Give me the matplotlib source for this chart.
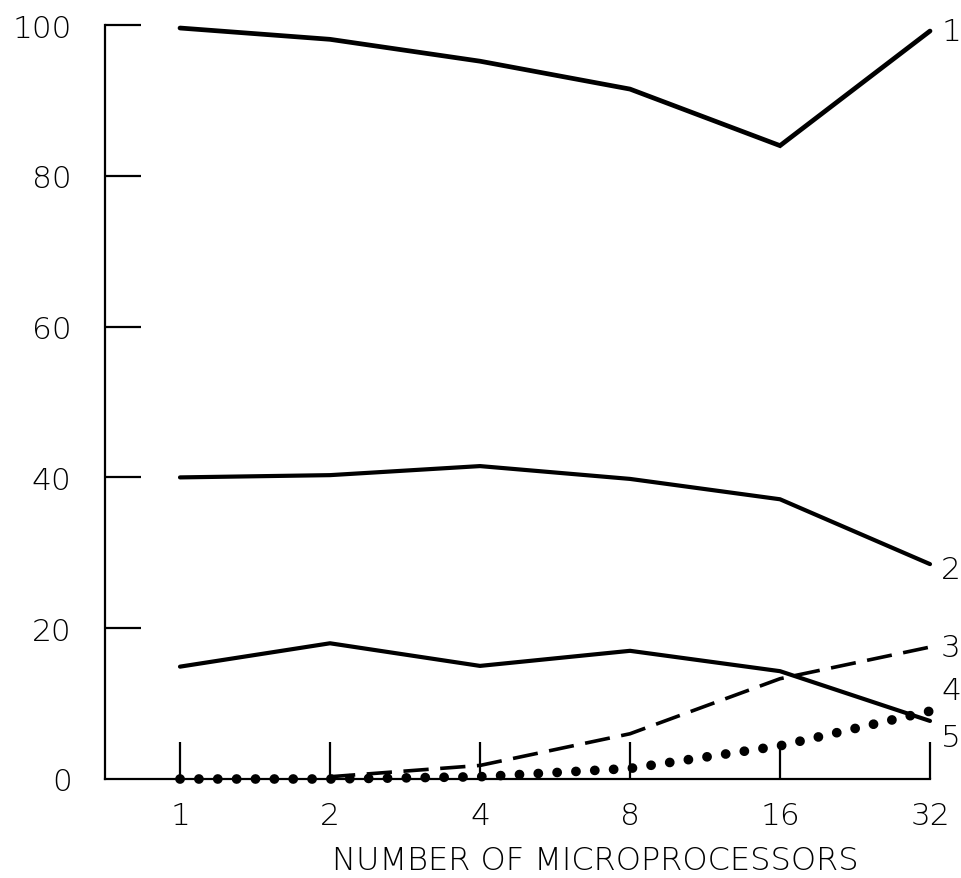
import matplotlib
matplotlib.use("Agg")
import matplotlib.pyplot as plt
from matplotlib.ticker import FixedLocator, FixedFormatter, NullLocator

# Number of microprocessors (log2 axis)
processors = [1, 2, 4, 8, 16, 32]
tick_labels = ["1", "2", "4", "8", "16", "32"]

# Curve 1 (top solid)
curve1 = [99.6, 98.1, 95.2, 91.5, 84.0, 99.2]
# Curve 2 (middle solid)
curve2 = [40.0, 40.3, 41.5, 39.8, 37.1, 28.5]
# Curve 3 (dashed)
curve3_x = [2, 4, 8, 16, 32]
curve3 = [0.3, 1.8, 6.0, 13.3, 17.5]
# Curve 4 (dotted)
curve4 = [0.0, 0.0, 0.3, 1.4, 4.4, 9.0]
# Curve 5 (lower solid)
curve5 = [14.9, 18.0, 15.0, 17.0, 14.3, 7.7]

yticks = [0, 20, 40, 60, 80, 100]

W, H, DPI = 961, 879, 100
fig = plt.figure(figsize=(W / DPI, H / DPI), dpi=DPI)
left, right = 105 / W, 930 / W
bottom, top = 1 - 780 / H, 1 - 26 / H
ax = fig.add_axes([left, bottom, right - left, top - bottom])

ax.set_xscale("log", base=2)
ax.set_xlim(2 ** -0.5, 32)
ax.set_ylim(0, 100)

black = "black"
ax.plot(processors, curve1, color=black, lw=3.4, solid_capstyle="round",
        solid_joinstyle="miter", clip_on=False, zorder=3)
ax.plot(processors, curve2, color=black, lw=3.0, solid_capstyle="round",
        clip_on=False, zorder=3)
ax.plot(processors, curve5, color=black, lw=3.0, solid_capstyle="round",
        clip_on=False, zorder=3)
ax.plot(curve3_x, curve3, color=black, lw=2.6, linestyle=(0, (7.0, 3.2)),
        clip_on=False, zorder=3)
ax.plot(processors, curve4, color=black, lw=7.0, linestyle=(0, (0.01, 1.93)),
        dash_capstyle="round", clip_on=False, zorder=4)

# Spines: only the left and bottom axes
for side in ("top", "right"):
    ax.spines[side].set_visible(False)
for side in ("left", "bottom"):
    ax.spines[side].set_linewidth(1.6)
    ax.spines[side].set_color(black)

font = "DejaVu Sans"
fsize = 22.5
ax.xaxis.set_major_locator(FixedLocator(processors))
ax.xaxis.set_major_formatter(FixedFormatter(tick_labels))
ax.xaxis.set_minor_locator(NullLocator())
ax.set_yticks(yticks)
ax.set_yticklabels([str(v) for v in yticks])

ax.tick_params(axis="x", direction="in", length=27, width=1.6, pad=16,
               labelsize=fsize, colors=black)
ax.tick_params(axis="y", direction="in", length=26, width=1.6, pad=24,
               labelsize=fsize, colors=black)
ax.yaxis.get_major_ticks()[0].tick1line.set_visible(False)
for lbl in ax.get_xticklabels() + ax.get_yticklabels():
    lbl.set_family(font)
    lbl.set_fontweight("light")

ax.set_xlabel("NUMBER OF MICROPROCESSORS", fontsize=fsize + 0.5, family=font,
              fontweight="light")
ax.xaxis.set_label_coords((595 / W - left) / (right - left), -(846 - 780) / (780 - 26))

# Curve numbers at the right-hand ends
ends = [("1", curve1[-1], 0), ("2", curve2[-1], -4), ("3", curve3[-1], 0),
        ("4", curve4[-1], 15), ("5", curve5[-1], -12)]
for name, yv, dy in ends:
    ax.annotate(name, xy=(32, yv), xytext=(8, dy), textcoords="offset points",
                ha="left", va="center", fontsize=fsize, family=font,
                fontweight="light", annotation_clip=False)

fig.savefig("out.png", dpi=DPI, facecolor="white")
